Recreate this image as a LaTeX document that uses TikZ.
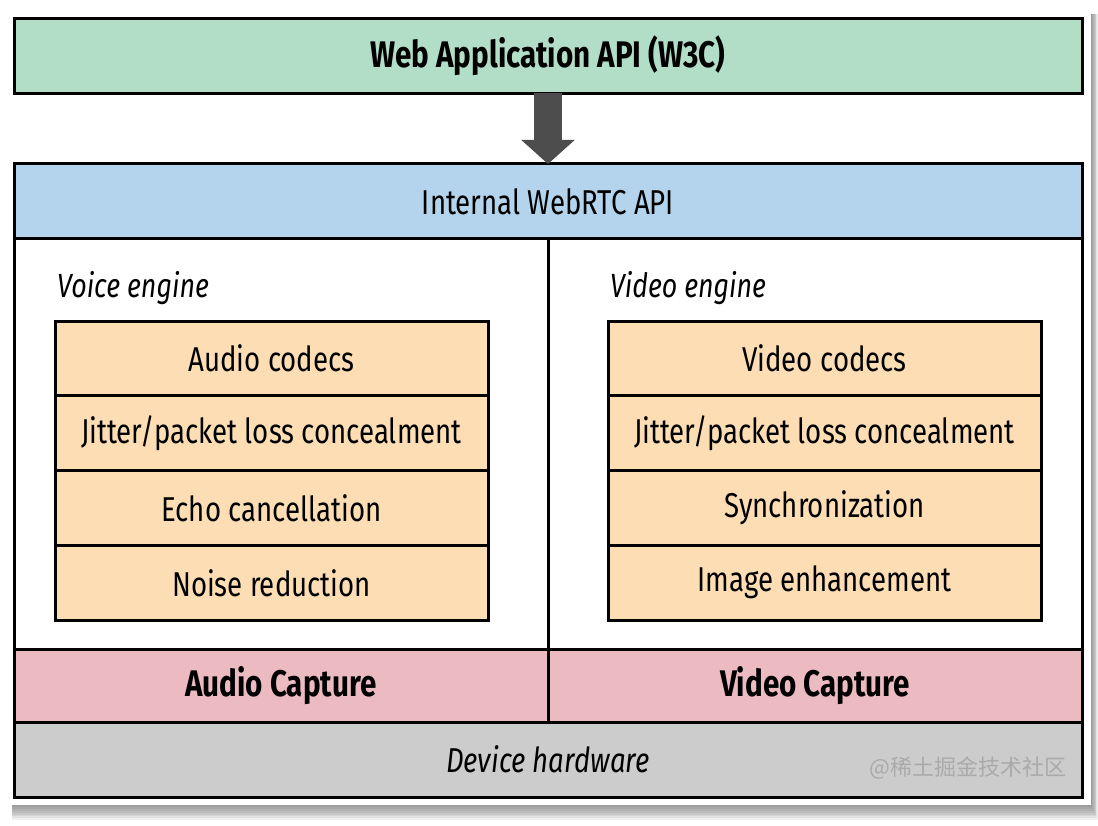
\documentclass[tikz,border=0pt]{standalone}
\usepackage{fontspec}
\setmainfont{Fira Sans}[FakeStretch=0.8]
\newfontfamily\cjkfont{Noto Sans CJK SC}
\usetikzlibrary{positioning,arrows.meta}
\definecolor{APIGreen}{RGB}{178,222,200}
\definecolor{APIBlue}{RGB}{179,212,236}
\definecolor{EngineOrange}{RGB}{252,221,180}
\definecolor{CapturePink}{RGB}{236,186,193}
\definecolor{HardwareGray}{RGB}{204,204,204}
\definecolor{ArrowGray}{RGB}{77,77,77}
\definecolor{MarkGray}{RGB}{170,170,170}

\begin{document}
\begin{tikzpicture}[
x=1pt,y=1pt,
layer/.style={
rectangle,
draw=black,
line width=3pt,
outer sep=0pt,
minimum width=1068pt,
minimum height=75pt,
align=center,
font=\fontsize{34.5}{40}\selectfont
},
half/.style={
layer,
minimum width=534pt
},
stackbox/.style={
layer,
fill=EngineOrange,
minimum width=433pt,
minimum height=74.75pt
},
strong/.style={
font=\fontsize{37}{42}\selectfont\bfseries
},
enginelabel/.style={
anchor=west,
inner sep=0pt,
font=\fontsize{33.5}{38}\selectfont\itshape
},
bigarrow/.style={
-{Triangle[width=52pt,length=24pt]},
line width=28pt,
draw=ArrowGray
}
]
\useasboundingbox (0,0) rectangle (1098,-826);

% card with a soft shadow on the right and below
\foreach \i in {1,...,8}
  \fill[black,opacity=0.06] (12,-14) rectangle (1091+\i*0.9,-805-\i*1.9);
\fill[white] (0,0) rectangle (1091,-805);

\node[layer,strong,fill=APIGreen] (web) at (548,-56) {Web Application API (W3C)};
\node[layer,fill=APIBlue] (api) at (548,-201.5) {Internal WebRTC API};

\node[half,fill=white,minimum height=410pt] (voice) at (281,-444) {};
\node[half,fill=white,minimum height=410pt] (video) at (815,-444) {};

\node[enginelabel] (voicelbl) at (57,-288) {Voice engine};
\node[enginelabel] (videolbl) at (610,-288) {Video engine};

\node[stackbox] (acodec) at (271.5,-358.5) {Audio codecs};
\node[stackbox,below=0pt of acodec] (ajitter) {Jitter/packet loss concealment};
\node[stackbox,below=0pt of ajitter] (aecho) {Echo cancellation};
\node[stackbox,below=0pt of aecho] (anoise) {Noise reduction};

\node[stackbox] (vcodec) at (824.5,-358.5) {Video codecs};
\node[stackbox,below=0pt of vcodec] (vjitter) {Jitter/packet loss concealment};
\node[stackbox,below=0pt of vjitter] (vsync) {Synchronization};
\node[stackbox,below=0pt of vsync] (vimage) {Image enhancement};

\node[half,strong,fill=CapturePink,minimum height=73pt] (acap) at (281,-685.5) {Audio Capture};
\node[half,strong,fill=CapturePink,minimum height=73pt] (vcap) at (815,-685.5) {Video Capture};

\node[layer,fill=HardwareGray] (hw) at (548,-759.5) {\itshape Device hardware};
\node[anchor=east,text=MarkGray,font=\cjkfont\fontsize{22}{26}\selectfont] (mark) at (1070,-768) {@稀土掘金技术社区};

\draw[bigarrow] (web.south) -- (api.north);

\end{tikzpicture}
\end{document}
